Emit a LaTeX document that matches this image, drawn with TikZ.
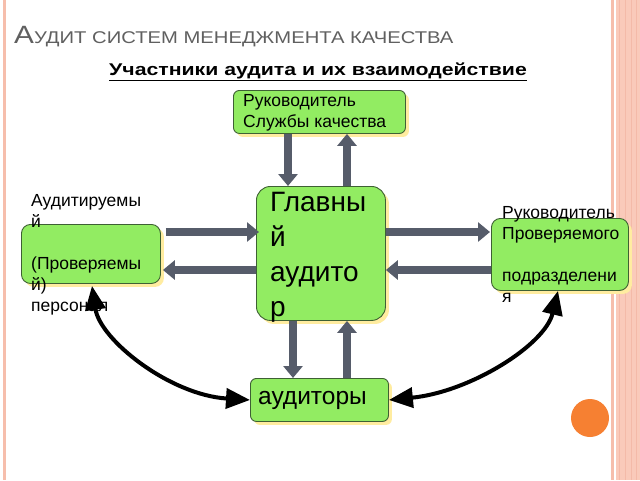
\documentclass[tikz,border=0pt]{standalone}
\usepackage{fontspec}
\setmainfont{Liberation Sans}
\usetikzlibrary{arrows.meta,shadows,calc}
\definecolor{boxgreen}{RGB}{146,236,98}
\definecolor{boxedge}{RGB}{62,96,52}
\definecolor{shadowyel}{RGB}{255,236,160}
\definecolor{arrowgray}{RGB}{86,92,106}
\definecolor{pinkline}{RGB}{246,190,172}
\definecolor{pinkband}{RGB}{250,202,186}
\definecolor{pinkdark}{RGB}{244,186,168}
\definecolor{orangedot}{RGB}{246,128,50}
\definecolor{titlegray}{RGB}{96,96,96}
\begin{document}
\begin{tikzpicture}[x=1pt,y=-1pt,
  greenbox/.style={draw=boxedge, line width=0.9pt, fill=boxgreen,
    drop shadow={shadow xshift=3.5pt, shadow yshift=-3.5pt, fill=shadowyel, opacity=1},
    anchor=north west, inner sep=0pt},
  blockarrow/.style={draw=arrowgray, line width=8pt, -{Triangle[width=19pt,length=12pt]}},
  curvearrow/.style={draw=black, line width=4pt,
    {Triangle[width=20pt,length=24pt]}-{Triangle[width=20pt,length=24pt]}},
  boxtext/.style={font=\fontsize{17.5}{21}\selectfont, align=left, inner sep=0pt, anchor=west}
]
\useasboundingbox (0,0) rectangle (640,480);
\fill[white] (0,0) rectangle (640,480);
% page decoration
\fill[pinkline] (3,0) rectangle (6,480);
\fill[pinkline] (611,0) rectangle (613.5,480);
\fill[pinkband] (616,0) rectangle (640,480);
\foreach \xx in {619,625,631,636} \fill[pinkdark] (\xx,0) rectangle (\xx+1.2,480);
% titles
\node[anchor=base west, text=titlegray, inner sep=0pt] (title) at (14,43)
  {\scalebox{1.19}[1]{\fontsize{25}{25}\selectfont А\fontsize{17}{17}\selectfont УДИТ СИСТЕМ МЕНЕДЖМЕНТА КАЧЕСТВА}};
\node[anchor=base, inner sep=0pt] (subtitle) at (318,75)
  {\scalebox{1.25}[1]{\bfseries\fontsize{17}{17}\selectfont\underline{Участники аудита и их взаимодействие}}};
% boxes
\node[greenbox, minimum width=172pt, minimum height=43pt, rounded corners=6pt] (chief) at (233,90) {};
\node[greenbox, minimum width=129pt, minimum height=134pt, rounded corners=14pt] (lead) at (256,186) {};
\node[greenbox, minimum width=139pt, minimum height=59pt, rounded corners=9pt] (lbox) at (21,224) {};
\node[greenbox, minimum width=137pt, minimum height=72pt, rounded corners=9pt] (rbox) at (491,218) {};
\node[greenbox, minimum width=138pt, minimum height=43pt, rounded corners=6pt] (bbox) at (250,378) {};
% texts
\node[boxtext] (chieftext) at ($(chief.west)+(10,1)$) {Руководитель\\Службы качества};
\node[boxtext, font=\fontsize{28}{35}\selectfont] (leadtext) at ($(lead.west)+(14,4)$) {Главны\\й\\аудито\\р};
\node[boxtext] (ltext) at ($(lbox.west)+(10,1)$) {Аудитируемы\\й\\[21pt](Проверяемы\\й)\\персонал};
\node[boxtext] (rtext) at ($(rbox.west)+(11,0.5)$) {Руководитель\\Проверяемого\\[21pt]подразделени\\я};
\node[boxtext, font=\fontsize{24.5}{28}\selectfont] (btext) at ($(bbox.west)+(8,0)$) {аудиторы};
% block arrows
\draw[blockarrow] ($(chief.south west)+(55,0)$) -- ($(lead.north west)+(32,0)$);
\draw[blockarrow] ($(lead.north west)+(91,0)$) -- ($(chief.south west)+(114,0)$);
\draw[blockarrow] ($(lbox.north east)+(5,8)$) -- ($(lead.north west)+(3,46)$);
\draw[blockarrow] ($(lead.north west)+(0,84)$) -- ($(lbox.north east)+(2,46)$);
\draw[blockarrow] ($(lead.north east)+(0,46)$) -- ($(rbox.north west)+(-1,14)$);
\draw[blockarrow] ($(rbox.north west)+(0,52)$) -- ($(lead.north east)+(0,84)$);
\draw[blockarrow] ($(lead.south west)+(37,0)$) -- ($(bbox.north west)+(43,0)$);
\draw[blockarrow] ($(bbox.north west)+(97,0)$) -- ($(lead.south west)+(91,0)$);
% curved double arrows
\draw[curvearrow] ($(lbox.south west)+(71,2)$) .. controls (100,340) and (170,395) .. (bbox.west);
\draw[curvearrow] (bbox.east) .. controls (470,392) and (545,345) .. ($(rbox.south west)+(67,0)$);
% decoration dot
\fill[orangedot] (590,418) circle[radius=19pt];
\end{tikzpicture}
\end{document}
